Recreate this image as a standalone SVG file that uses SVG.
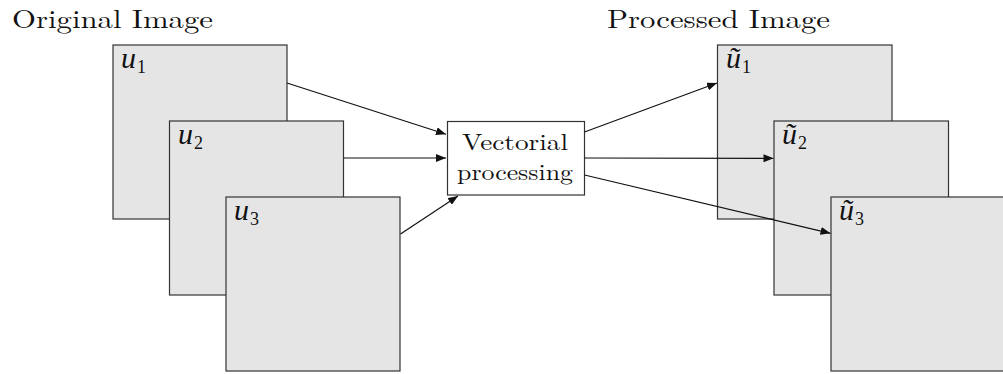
<svg xmlns="http://www.w3.org/2000/svg" width="1003" height="374" viewBox="0 0 1003 374">
<style>
.img{fill:#e5e5e5;stroke:#333;stroke-width:1.2}
.box{fill:#fff;stroke:#333;stroke-width:1.2}
.t{font-family:"Latin Modern Roman","Liberation Serif","DejaVu Serif",serif;fill:#111}
.m{font-family:"Liberation Serif","DejaVu Serif",serif;font-style:italic;fill:#111;font-size:30px}
.s{font-style:normal;font-size:18px}
.c{stroke:#111;stroke-width:1.2;fill:none;marker-end:url(#ah)}
</style>
<defs>
<marker id="ah" markerWidth="10" markerHeight="8" refX="10" refY="4" orient="auto" markerUnits="userSpaceOnUse">
<path d="M0,0 L10,4 L0,8 Z" fill="#111"/>
</marker>
</defs>
<text class="t" x="12" y="28" font-size="26" textLength="201" lengthAdjust="spacingAndGlyphs">Original Image</text>
<text class="t" x="607" y="28" font-size="26" textLength="223" lengthAdjust="spacingAndGlyphs">Processed Image</text>
<g id="u1"><rect class="img" x="113" y="45" width="174" height="174"/><text class="m" x="121" y="68">u<tspan class="s" dx="1" dy="4.5">1</tspan></text></g>
<g id="u2"><rect class="img" x="169.5" y="121" width="174" height="174"/><text class="m" x="178" y="144">u<tspan class="s" dx="1" dy="4.5">2</tspan></text></g>
<g id="u3"><rect class="img" x="226" y="197" width="174" height="174"/><text class="m" x="234" y="220">u<tspan class="s" dx="1" dy="4.5">3</tspan></text></g>
<g id="proc"><rect class="box" x="447.5" y="121.5" width="137" height="73.5"/><text class="t" x="462" y="150" font-size="23" textLength="106" lengthAdjust="spacingAndGlyphs">Vectorial</text><text class="t" x="457" y="180" font-size="23" textLength="116" lengthAdjust="spacingAndGlyphs">processing</text></g>
<g id="v1"><rect class="img" x="717.5" y="45" width="174.5" height="174"/><text class="m" x="726" y="68">ũ<tspan class="s" dx="1" dy="4.5">1</tspan></text></g>
<g id="v2"><rect class="img" x="774" y="121" width="174.5" height="174"/><text class="m" x="782" y="144">ũ<tspan class="s" dx="1" dy="4.5">2</tspan></text></g>
<g id="v3"><rect class="img" x="831" y="197" width="174" height="174"/><text class="m" x="839" y="220">ũ<tspan class="s" dx="1" dy="4.5">3</tspan></text></g>
<g id="connectors">
<line class="c" x1="287" y1="83" x2="446" y2="134.3"/>
<line class="c" x1="343.5" y1="158" x2="446" y2="158"/>
<line class="c" x1="400.5" y1="234" x2="458" y2="196"/>
<line class="c" x1="584.5" y1="132" x2="717" y2="83"/>
<line class="c" x1="584.5" y1="158" x2="773.5" y2="158.3"/>
<line class="c" x1="584.5" y1="175" x2="830.5" y2="233.3"/>
</g>
</svg>
